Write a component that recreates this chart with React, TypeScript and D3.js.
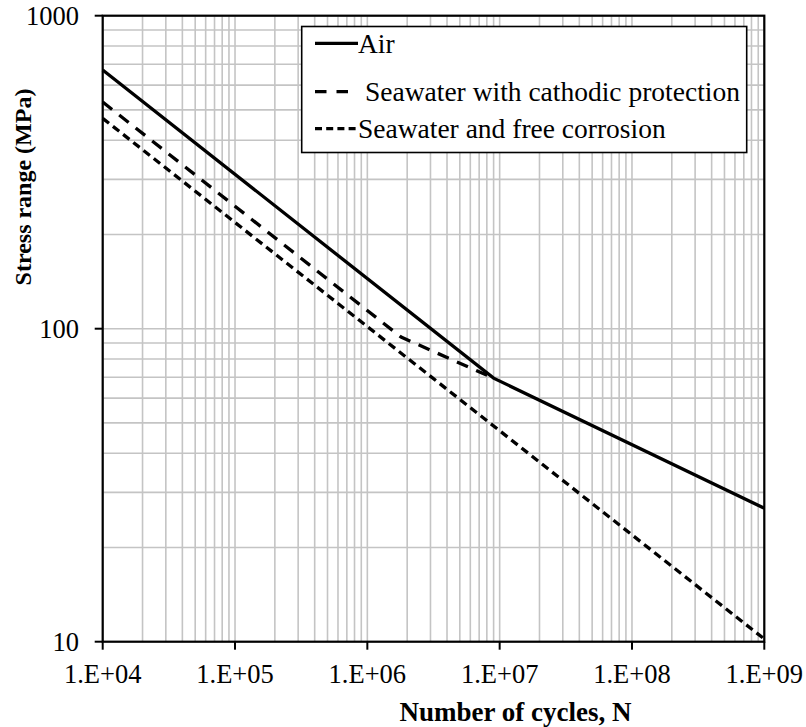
import React from "react";
import * as d3 from "d3";

const xTickValues = [1e4, 1e5, 1e6, 1e7, 1e8, 1e9];
const xTickLabels = ["1.E+04", "1.E+05", "1.E+06", "1.E+07", "1.E+08", "1.E+09"];
const yTickValues = [10, 100, 1000];
const yTickLabels = ["10", "100", "1000"];

const airN = [1e4, 9e6, 1e9];
const airS = [671, 69.5, 26.7];
const cpN = [1e4, 1.8e6, 9e6];
const cpS = [530, 94, 69.5];
const fcN = [1e4, 1e9];
const fcS = [470, 10.2];

const seriesNames = ["Air", "Seawater with cathodic protection", "Seawater and free corrosion"];

const W = 806;
const H = 727;
const left = 102.7;
const right = 764.3;
const top = 15.7;
const bottom = 641.7;
const FONT = "'Liberation Serif', Tinos, 'Times New Roman', Times, serif";

export default function App() {
  const x = d3.scaleLog().domain([1e4, 1e9]).range([left, right]);
  const y = d3.scaleLog().domain([10, 1000]).range([bottom, top]);

  const xMinor: number[] = [];
  for (let e = 4; e < 9; e++) for (let k = 1; k <= 9; k++) xMinor.push(k * Math.pow(10, e));
  xMinor.push(1e9);
  const yMinor: number[] = [];
  for (let e = 1; e < 3; e++) for (let k = 1; k <= 9; k++) yMinor.push(k * Math.pow(10, e));
  yMinor.push(1000);

  const line = d3
    .line<[number, number]>()
    .x((d) => x(d[0]))
    .y((d) => y(d[1]));

  const air = line(airN.map((n, i) => [n, airS[i]] as [number, number]))!;
  const cp = line(cpN.map((n, i) => [n, cpS[i]] as [number, number]))!;
  const fc = line(fcN.map((n, i) => [n, fcS[i]] as [number, number]))!;

  const legX = 301.7;
  const legY = 26.5;
  const legW = 445;
  const legH = 126;
  const rows = [43.3, 91.7, 128.7];
  const ts = { fontFamily: FONT };
  const LF = 27.5;

  return (
    <svg width={W} height={H} style={{ position: "absolute", left: 0, top: 0, background: "#fff" }}>
      <rect x={0} y={0} width={W} height={H} fill="#fff" />
      {xMinor.map((v, i) => (
        <line key={"gx" + i} x1={x(v)} x2={x(v)} y1={top} y2={bottom} stroke="#c4c4c4" strokeWidth={1.6} />
      ))}
      {yMinor.map((v, i) => (
        <line key={"gy" + i} x1={left} x2={right} y1={y(v)} y2={y(v)} stroke="#c4c4c4" strokeWidth={1.6} />
      ))}
      <path d={fc} fill="none" stroke="#000" strokeWidth={3.3} strokeDasharray="8,5" />
      <path d={cp} fill="none" stroke="#000" strokeWidth={3.3} strokeDasharray="12,9" />
      <path d={air} fill="none" stroke="#000" strokeWidth={3.3} />
      <rect x={left} y={top} width={right - left} height={bottom - top} fill="none" stroke="#000" strokeWidth={2.2} />
      {xTickValues.map((v, i) => (
        <g key={"xt" + i}>
          <line x1={x(v)} x2={x(v)} y1={bottom} y2={bottom + 8} stroke="#000" strokeWidth={2} />
          <text x={x(v)} y={683} textAnchor="middle" style={ts} fontSize={26.5} fill="#000">
            {xTickLabels[i]}
          </text>
        </g>
      ))}
      {yTickValues.map((v, i) => (
        <g key={"yt" + i}>
          <line x1={left - 8} x2={left} y1={y(v)} y2={y(v)} stroke="#000" strokeWidth={2} />
          <text x={79} y={y(v)} dy="0.34em" textAnchor="end" style={ts} fontSize={26.5} fill="#000">
            {yTickLabels[i]}
          </text>
        </g>
      ))}
      <text x={515.5} y={721} textAnchor="middle" style={ts} fontSize={27} fontWeight="bold" fill="#000">
        Number of cycles, N
      </text>
      <text
        transform={`translate(31,187) rotate(-90)`}
        textAnchor="middle"
        style={ts}
        fontSize={24}
        fontWeight="bold"
        fill="#000"
      >
        Stress range (MPa)
      </text>
      <rect x={legX} y={legY} width={legW} height={legH} fill="#fff" stroke="#000" strokeWidth={1.6} />
      <line x1={315} x2={358} y1={rows[0]} y2={rows[0]} stroke="#000" strokeWidth={3.2} />
      <line x1={315} x2={349} y1={rows[1]} y2={rows[1]} stroke="#000" strokeWidth={3.2} strokeDasharray="11.5,10" />
      <line x1={315} x2={358} y1={rows[2]} y2={rows[2]} stroke="#000" strokeWidth={3.2} strokeDasharray="7,4.2" />
      <text x={358} y={rows[0]} dy="0.34em" style={ts} fontSize={LF} fill="#000">
        {seriesNames[0]}
      </text>
      <text x={365} y={rows[1]} dy="0.34em" style={ts} fontSize={LF} fill="#000">
        {seriesNames[1]}
      </text>
      <text x={358} y={rows[2]} dy="0.34em" style={ts} fontSize={LF} fill="#000">
        {seriesNames[2]}
      </text>
    </svg>
  );
}
